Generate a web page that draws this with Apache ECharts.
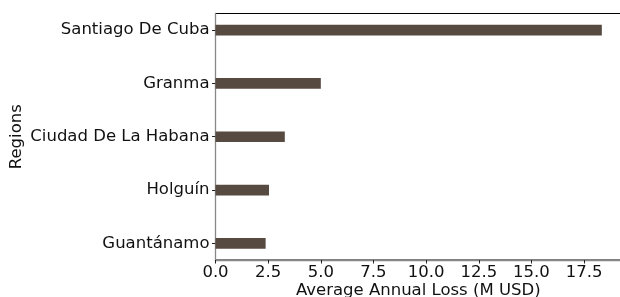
<!DOCTYPE html>
<html>
<head>
<meta charset="utf-8">
<script src="https://cdn.jsdelivr.net/npm/echarts@6/dist/echarts.min.js"></script>
<style>
  html, body { margin: 0; padding: 0; background: #fff; }
  #chart { width: 620px; height: 297px; }
</style>
</head>
<body>
<div id="chart"></div>
<script>
// regions, top to bottom as drawn
const regions = ['Santiago De Cuba', 'Granma', 'Ciudad De La Habana', 'Holguín', 'Guantánamo'];
const losses = [18.34, 5.0, 3.29, 2.54, 2.38];
const xTicks = [0, 2.5, 5, 7.5, 10, 12.5, 15, 17.5];
const yTicks = [0, 1, 2, 3, 4];

const barColor = '#574a41';
const font = 'DejaVu Sans';

// y position: bottom row = 0
const data = losses.map(function (v, i) {
  return [v, regions.length - 1 - i];
});

const chart = echarts.init(document.getElementById('chart'));

const option = {
  animation: false,
  grid: {
    left: 215.5,
    right: -1,
    top: 13.5,
    bottom: 37,
    outerBoundsMode: 'none',
    containLabel: false,
    show: true,
    borderColor: '#000',
    borderWidth: 1
  },
  xAxis: {
    type: 'value',
    min: 0,
    max: 19.25,
    name: 'Average Annual Loss (M USD)',
    nameLocation: 'middle',
    nameGap: 22,
    nameMoveOverlap: false,
    nameTextStyle: { fontFamily: font, fontSize: 16.5, color: '#111' },
    axisLine: { show: true, onZero: false, lineStyle: { color: '#888', width: 1.3 } },
    axisTick: { show: true, length: 3.5, customValues: xTicks, lineStyle: { color: '#222' } },
    axisLabel: {
      customValues: xTicks,
      margin: 4,
      fontFamily: font,
      fontSize: 16.5,
      color: '#111',
      formatter: function (v) { return v.toFixed(1); }
    },
    splitLine: { show: false }
  },
  yAxis: {
    type: 'value',
    min: -0.31,
    max: 4.31,
    name: 'Regions',
    nameLocation: 'middle',
    nameGap: 190,
    nameMoveOverlap: false,
    nameTextStyle: { fontFamily: font, fontSize: 16.5, color: '#111' },
    axisLine: { show: true, onZero: false, lineStyle: { color: '#888', width: 1.3 } },
    axisTick: { show: true, length: 3.5, customValues: yTicks, lineStyle: { color: '#222' } },
    axisLabel: {
      customValues: yTicks,
      margin: 6,
      fontFamily: font,
      fontSize: 16.5,
      color: '#111',
      formatter: function (v) { return regions[regions.length - 1 - Math.round(v)]; }
    },
    splitLine: { show: false }
  },
  series: [{
    type: 'custom',
    data: data,
    renderItem: function (params, api) {
      const y = api.value(1);
      const start = api.coord([0, y]);
      const end = api.coord([api.value(0), y]);
      const h = api.size([0, 0.2])[1];
      return {
        type: 'rect',
        shape: { x: start[0], y: start[1] - h / 2, width: end[0] - start[0], height: h },
        style: { fill: barColor }
      };
    }
  }]
};

chart.setOption(option);
</script>
</body>
</html>
